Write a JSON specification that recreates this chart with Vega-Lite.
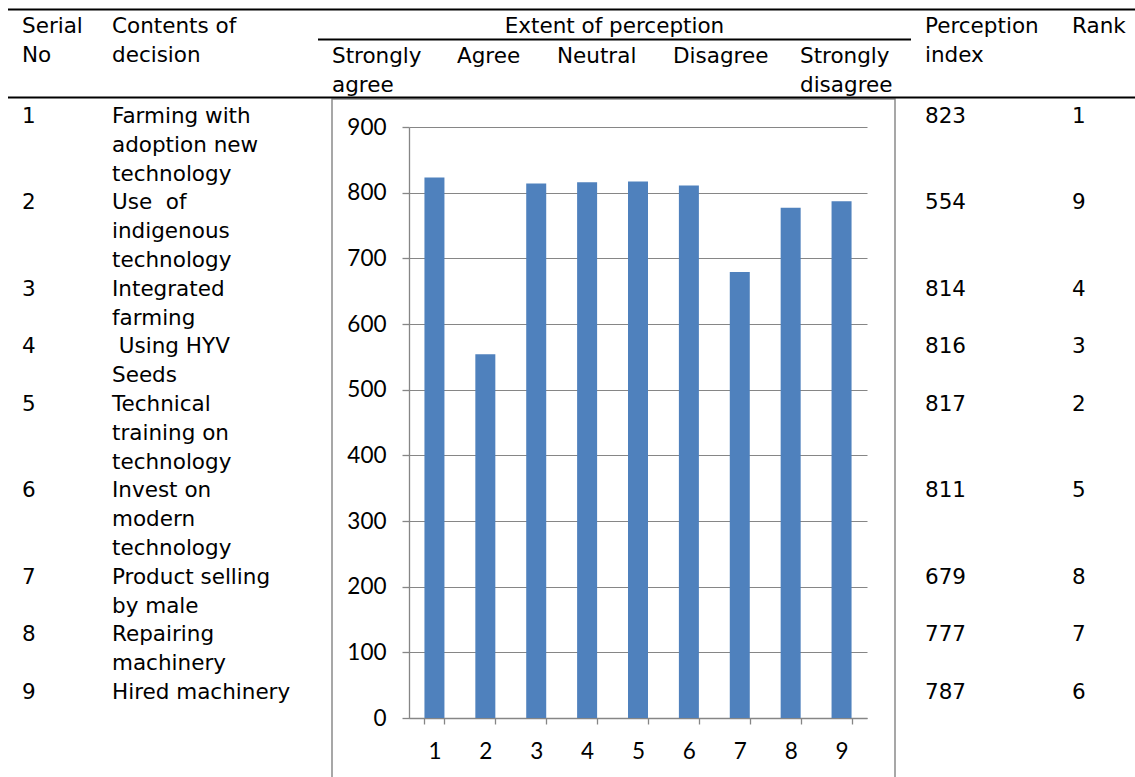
{
  "$schema": "https://vega.github.io/schema/vega-lite/v6.json",
  "width": 1135,
  "height": 777,
  "padding": 0,
  "autosize": {"type": "none"},
  "background": "white",
  "config": {
    "view": {"stroke": null},
    "text": {"font": "DejaVu Sans", "fontSize": 21.5, "color": "black", "align": "left", "baseline": "alphabetic"}
  },
  "datasets": {
    "rows": [
      {"sn": 1, "content": "Farming with\nadoption new\ntechnology", "index": 823, "rank": 1},
      {"sn": 2, "content": "Use\u00a0\u00a0of\nindigenous\ntechnology", "index": 554, "rank": 9},
      {"sn": 3, "content": "Integrated\nfarming", "index": 814, "rank": 4},
      {"sn": 4, "content": "\u200b\u00a0Using HYV\nSeeds", "index": 816, "rank": 3},
      {"sn": 5, "content": "Technical\ntraining on\ntechnology", "index": 817, "rank": 2},
      {"sn": 6, "content": "Invest on\nmodern\ntechnology", "index": 811, "rank": 5},
      {"sn": 7, "content": "Product selling\nby male", "index": 679, "rank": 8},
      {"sn": 8, "content": "Repairing\nmachinery", "index": 777, "rank": 7},
      {"sn": 9, "content": "Hired machinery", "index": 787, "rank": 6}
    ],
    "headers": [
      {"col": 0, "line": -3, "text": "Serial\nNo"},
      {"col": 1, "line": -3, "text": "Contents of\ndecision"},
      {"col": 7, "line": -3, "text": "Perception\nindex"},
      {"col": 8, "line": -3, "text": "Rank"},
      {"col": 2, "line": -2, "text": "Strongly\nagree"},
      {"col": 3, "line": -2, "text": "Agree"},
      {"col": 4, "line": -2, "text": "Neutral"},
      {"col": 5, "line": -2, "text": "Disagree"},
      {"col": 6, "line": -2, "text": "Strongly\ndisagree"}
    ]
  },
  "layer": [
    {
      "layer": [
        {
          "data": {"values": [{}]},
          "mark": {"type": "rect", "fill": "transparent", "stroke": "#8a8a8a", "strokeWidth": 1.5, "xOffset": 14, "x2Offset": -16, "yOffset": 6},
          "encoding": {
            "x": {"datum": 2, "type": "quantitative", "scale": {"domain": [0,1,2,3,4,5,6,7,8,9], "range": [8,98,318,443,543,659,786,911,1058,1135], "nice": false, "zero": false}, "axis": null},
            "x2": {"datum": 7},
            "y": {"datum": -1, "type": "quantitative", "scale": {"domain": [-3,0,20], "range": [33,123,699], "nice": false, "zero": false}, "axis": null},
            "y2": {"datum": 30}
          }
        },
        {
          "data": {"values": [{}]},
          "mark": {"type": "rule", "color": "black", "strokeWidth": 2, "yOffset": -23.5},
          "encoding": {
            "x": {"datum": 0, "type": "quantitative", "scale": {"domain": [0,1,2,3,4,5,6,7,8,9], "range": [8,98,318,443,543,659,786,911,1058,1135], "nice": false, "zero": false}, "axis": null},
            "x2": {"datum": 9},
            "y": {"datum": -3, "type": "quantitative", "scale": {"domain": [-3,0,20], "range": [33,123,699], "nice": false, "zero": false}, "axis": null}
          }
        },
        {
          "data": {"values": [{}]},
          "mark": {"type": "rule", "color": "black", "strokeWidth": 2, "yOffset": 6.5},
          "encoding": {
            "x": {"datum": 2, "type": "quantitative", "scale": {"domain": [0,1,2,3,4,5,6,7,8,9], "range": [8,98,318,443,543,659,786,911,1058,1135], "nice": false, "zero": false}, "axis": null},
            "x2": {"datum": 7},
            "y": {"datum": -3, "type": "quantitative", "scale": {"domain": [-3,0,20], "range": [33,123,699], "nice": false, "zero": false}, "axis": null}
          }
        },
        {
          "data": {"values": [{}]},
          "mark": {"type": "rule", "color": "black", "strokeWidth": 2, "yOffset": 4.5},
          "encoding": {
            "x": {"datum": 0, "type": "quantitative", "scale": {"domain": [0,1,2,3,4,5,6,7,8,9], "range": [8,98,318,443,543,659,786,911,1058,1135], "nice": false, "zero": false}, "axis": null},
            "x2": {"datum": 9},
            "y": {"datum": -1, "type": "quantitative", "scale": {"domain": [-3,0,20], "range": [33,123,699], "nice": false, "zero": false}, "axis": null}
          }
        },
        {
          "data": {"name": "headers"},
          "mark": {"type": "text", "lineBreak": "\n", "lineHeight": 29, "dx": 14},
          "encoding": {
            "x": {"field": "col", "type": "quantitative", "scale": {"domain": [0,1,2,3,4,5,6,7,8,9], "range": [8,98,318,443,543,659,786,911,1058,1135], "nice": false, "zero": false}, "axis": null},
            "y": {"field": "line", "type": "quantitative", "scale": {"domain": [-3,0,20], "range": [33,123,699], "nice": false, "zero": false}, "axis": null},
            "text": {"field": "text"}
          }
        },
        {
          "data": {"values": [{}]},
          "mark": {"type": "text", "align": "center"},
          "encoding": {
            "x": {"datum": 4.616, "type": "quantitative", "scale": {"domain": [0,1,2,3,4,5,6,7,8,9], "range": [8,98,318,443,543,659,786,911,1058,1135], "nice": false, "zero": false}, "axis": null},
            "y": {"datum": -3, "type": "quantitative", "scale": {"domain": [-3,0,20], "range": [33,123,699], "nice": false, "zero": false}, "axis": null},
            "text": {"value": "Extent of perception"}
          }
        },
        {
          "data": {"name": "rows"},
          "transform": [
            {"calculate": "length(split(datum.content, '\\n'))", "as": "nl"},
            {"window": [{"op": "sum", "field": "nl", "as": "cum"}], "sort": [{"field": "sn"}], "frame": [null, 0]},
            {"calculate": "datum.cum - datum.nl", "as": "line"}
          ],
          "layer": [
            {
              "mark": {"type": "text", "dx": 14},
              "encoding": {
                "x": {"datum": 0, "type": "quantitative", "scale": {"domain": [0,1,2,3,4,5,6,7,8,9], "range": [8,98,318,443,543,659,786,911,1058,1135], "nice": false, "zero": false}, "axis": null},
                "y": {"field": "line", "type": "quantitative", "scale": {"domain": [-3,0,20], "range": [33,123,699], "nice": false, "zero": false}, "axis": null},
                "text": {"field": "sn"}
              }
            },
            {
              "mark": {"type": "text", "dx": 14, "lineBreak": "\n", "lineHeight": 28.8},
              "encoding": {
                "x": {"datum": 1, "type": "quantitative", "scale": {"domain": [0,1,2,3,4,5,6,7,8,9], "range": [8,98,318,443,543,659,786,911,1058,1135], "nice": false, "zero": false}, "axis": null},
                "y": {"field": "line", "type": "quantitative", "scale": {"domain": [-3,0,20], "range": [33,123,699], "nice": false, "zero": false}, "axis": null},
                "text": {"field": "content"}
              }
            },
            {
              "mark": {"type": "text", "dx": 14},
              "encoding": {
                "x": {"datum": 7, "type": "quantitative", "scale": {"domain": [0,1,2,3,4,5,6,7,8,9], "range": [8,98,318,443,543,659,786,911,1058,1135], "nice": false, "zero": false}, "axis": null},
                "y": {"field": "line", "type": "quantitative", "scale": {"domain": [-3,0,20], "range": [33,123,699], "nice": false, "zero": false}, "axis": null},
                "text": {"field": "index"}
              }
            },
            {
              "mark": {"type": "text", "dx": 14},
              "encoding": {
                "x": {"datum": 8, "type": "quantitative", "scale": {"domain": [0,1,2,3,4,5,6,7,8,9], "range": [8,98,318,443,543,659,786,911,1058,1135], "nice": false, "zero": false}, "axis": null},
                "y": {"field": "line", "type": "quantitative", "scale": {"domain": [-3,0,20], "range": [33,123,699], "nice": false, "zero": false}, "axis": null},
                "text": {"field": "rank"}
              }
            }
          ]
        }
      ]
    },
    {
      "data": {"name": "rows"},
      "mark": {"type": "bar", "color": "#4F81BD"},
      "encoding": {
        "x": {
          "field": "sn", "type": "ordinal",
          "scale": {"type": "band", "range": [409, 867], "paddingInner": 0.607, "paddingOuter": 0.3035},
          "axis": {"orient": "bottom", "offset": -59, "title": null, "labelAngle": 0, "domainColor": "#868686", "domainWidth": 1.3, "tickColor": "#868686", "tickWidth": 1.3, "tickSize": 6, "tickBand": "extent", "labelFont": "Lato", "labelFontSize": 22.5, "labelColor": "black", "labelPadding": 16, "grid": false}
        },
        "y": {
          "field": "index", "type": "quantitative",
          "scale": {"domain": [0, 900], "range": [718, 127], "nice": false, "zero": true},
          "axis": {"orient": "left", "offset": -409, "title": null, "tickCount": 9, "domainColor": "#868686", "domainWidth": 1.3, "tickColor": "#868686", "tickWidth": 1.3, "tickSize": 7, "labelFont": "Lato", "labelFontSize": 22.5, "labelColor": "black", "labelPadding": 16, "grid": true, "gridColor": "#868686", "gridWidth": 1.1}
        }
      }
    }
  ],
  "resolve": {"scale": {"x": "independent", "y": "independent"}}
}
